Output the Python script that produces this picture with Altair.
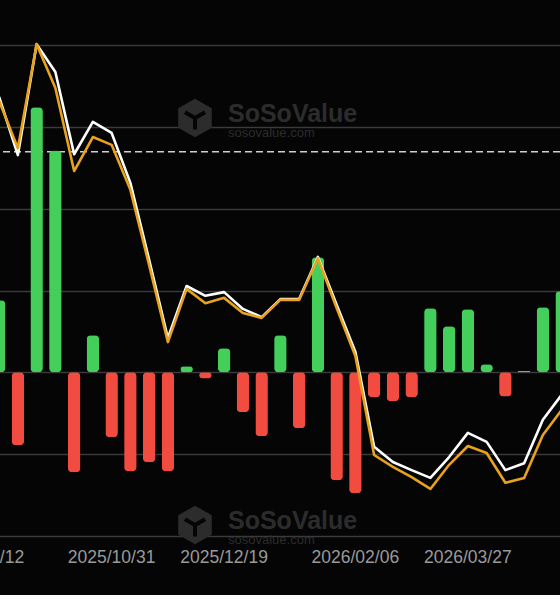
import altair as alt
import pandas as pd

# ---- data ----
dates = [
    "2025/09/12", "2025/09/19", "2025/09/26", "2025/10/03", "2025/10/10", "2025/10/17",
    "2025/10/24", "2025/10/31", "2025/11/07", "2025/11/14", "2025/11/21", "2025/12/05",
    "2025/12/12", "2025/12/19", "2025/12/26", "2026/01/02", "2026/01/09", "2026/01/16",
    "2026/01/23", "2026/01/30", "2026/02/06", "2026/02/13", "2026/02/20", "2026/02/27",
    "2026/03/06", "2026/03/13", "2026/03/27", "2026/04/03", "2026/04/10", "2026/04/17",
    "2026/04/24", "2026/05/01",
]
label_dates = ["2025/09/12", "2025/10/31", "2025/12/19", "2026/02/06", "2026/03/27"]

net_flow = [None, 440, -446, 1619, 1356, -611, 226, -397, -605, -550, -605, 37, -37, 147,
            -244, -391, 226, -342, 703, -660, -739, -153, -177, -153, 391, 281, 385, 49,
            -147, 9, 397, 495]
white_line = [None, 107.3, 93.1, 120.2, 113.4, 93.3, 101.2, 98.5, 86.3, 67.5, 48.4, 61.1,
              58.7, 59.6, 55.5, 53.5, 57.9, 57.9, 68.2, 56.5, 45.0, 21.8, 18.1, 16.1, 14.2,
              19.3, 25.2, 23.0, 16.1, 17.8, 28.4, 34.5]
orange_line = [None, 106.3, 94.8, 120.2, 109.5, 89.2, 97.5, 95.6, 84.6, 66.2, 47.4, 60.4,
               56.9, 58.2, 54.5, 53.3, 57.7, 57.7, 67.9, 55.7, 44.0, 19.8, 16.9, 14.4, 11.5,
               17.4, 22.0, 20.3, 13.0, 14.2, 24.7, 30.8]
reference_level = [93.9]
flow_ticks = [-1000, -500, 0, 500, 1000, 1500, 2000]
brand = ["SoSoValue"]
brand_site = ["sosovalue.com"]

BG = "#050505"
GREEN = "#43cf5a"
RED = "#f24b3f"
ORANGE = "#e8a21e"
WM = "#2c2c2c"

bars_df = pd.DataFrame({"date": dates, "flow": net_flow})
lines_df = pd.DataFrame({"date": dates, "white": white_line, "orange": orange_line})

x_enc = alt.X(
    "date:O",
    scale=alt.Scale(domain=dates, paddingInner=0.333, paddingOuter=0.1665),
    axis=alt.Axis(values=label_dates, labelAngle=0, title=None, ticks=False, domain=False,
                  grid=False, labelColor="#9a9a9a", labelFont="Liberation Sans",
                  labelFontSize=17.5, labelPadding=12, labelOverlap=False, labelBound=False,
                  labelFlush=False),
)
line_scale = alt.Scale(domain=[0, 120], nice=False, zero=False)

bars = alt.Chart(bars_df).mark_bar(cornerRadius=4).encode(
    x=x_enc,
    y=alt.Y("flow:Q", scale=alt.Scale(domain=[-1000, 2000], nice=False),
            axis=alt.Axis(values=flow_ticks, grid=True, gridColor="#3a3a3a", gridWidth=1.5,
                          labels=False, ticks=False, domain=False, title=None)),
    color=alt.condition("datum.flow >= 0", alt.value(GREEN), alt.value(RED)),
)

dash = alt.Chart(pd.DataFrame({"v": reference_level})).mark_rule(
    color="#cfcfcf", strokeWidth=1.5, strokeDash=[7, 4]
).encode(y=alt.Y("v:Q", scale=line_scale, axis=None))

wline = alt.Chart(lines_df).mark_line(color="#ffffff", strokeWidth=2.6, strokeJoin="round").encode(
    x=x_enc, y=alt.Y("white:Q", scale=line_scale, axis=None))
oline = alt.Chart(lines_df).mark_line(color=ORANGE, strokeWidth=2.6, strokeJoin="round").encode(
    x=x_enc, y=alt.Y("orange:Q", scale=line_scale, axis=None))

hex_path = "M0,-1L0.866,-0.5L0.866,0.5L0,1L-0.866,0.5L-0.866,-0.5Z"
cube_path = "M0,0L0,0.6M0,0L-0.52,-0.3M0,0L0.52,-0.3"


def watermark(yc):
    t1 = alt.Chart(pd.DataFrame({"t": brand})).mark_text(
        font="Liberation Sans", fontWeight="bold", fontSize=25, color=WM, align="left",
        baseline="alphabetic").encode(text="t:N", x=alt.value(257), y=alt.value(yc + 4))
    t2 = alt.Chart(pd.DataFrame({"t": brand_site})).mark_text(
        font="Liberation Sans", fontSize=13, color=WM, align="left",
        baseline="alphabetic").encode(text="t:N", x=alt.value(257), y=alt.value(yc + 19))
    h = alt.Chart(pd.DataFrame({"t": brand})).mark_point(
        shape=hex_path, filled=True, color=WM, size=1500, opacity=1).encode(
        x=alt.value(224), y=alt.value(yc))
    c = alt.Chart(pd.DataFrame({"t": brand})).mark_point(
        shape=cube_path, filled=False, stroke=BG, strokeWidth=4, size=1500, opacity=1).encode(
        x=alt.value(224), y=alt.value(yc))
    return [h, c, t1, t2]


chart = alt.layer(
    *watermark(73), *watermark(480), dash, bars, wline, oline
).resolve_scale(y="independent").properties(
    width=600, height=491,
    padding={"left": -29, "top": 45, "right": -11, "bottom": 59},
    autosize="none",
    background=BG,
).configure_view(stroke=None)

chart.save("out.html", embed_options={"renderer": "svg", "actions": False})
